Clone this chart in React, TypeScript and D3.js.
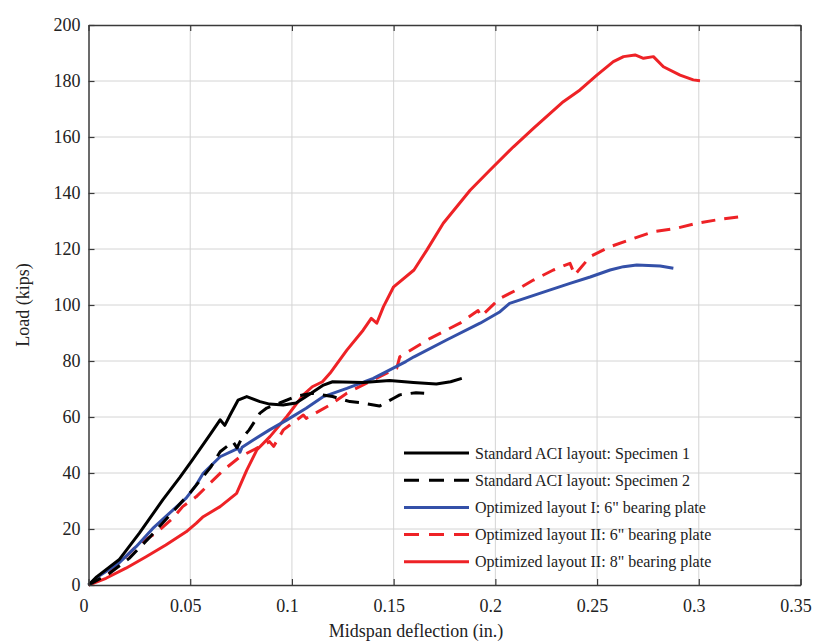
import React, { useEffect, useRef } from 'react'
import * as d3 from 'd3'

// [midspan deflection (in.), load (kips)]
const spec1: [number, number][] = [
  [0, 0], [0.004, 2.9], [0.015, 9], [0.025, 18.5], [0.0365, 30.4], [0.045, 38.5],
  [0.051, 44.6], [0.06, 54], [0.0647, 59], [0.067, 57], [0.0696, 60.7],
  [0.0735, 66], [0.0778, 67.3], [0.0843, 65.5], [0.089, 64.6], [0.0957, 64.3],
  [0.102, 65], [0.107, 67.3], [0.1155, 71.4], [0.12, 72.6], [0.135, 72.3],
  [0.148, 73], [0.1597, 72.3], [0.171, 71.8], [0.178, 72.6], [0.1835, 73.8]
]

const spec2: [number, number][] = [
  [0, 0], [0.005, 2], [0.01, 4], [0.02, 9.5], [0.03, 17], [0.04, 25], [0.05, 33],
  [0.06, 42], [0.0647, 47.6], [0.071, 51.2], [0.073, 49], [0.075, 52], [0.079, 55.4],
  [0.0843, 61.4], [0.0876, 63.2], [0.094, 65], [0.102, 67.4], [0.11, 68.5],
  [0.12, 67.3], [0.1285, 65.5], [0.1335, 65.1], [0.143, 63.9], [0.15, 66.7],
  [0.153, 67.9], [0.161, 68.7], [0.165, 68.5]
]

const opt1Six: [number, number][] = [
  [0, 0], [0.0037, 2.5], [0.015, 7.9], [0.0234, 13.7], [0.0316, 20.2], [0.0397, 25.6],
  [0.048, 31], [0.0529, 35.7], [0.0564, 39.9], [0.0647, 45.8], [0.0735, 48.8],
  [0.0745, 47.4], [0.0755, 49.2], [0.081, 51.8], [0.089, 55.4], [0.0974, 58.9],
  [0.107, 63.1], [0.1155, 67.3], [0.127, 70.2], [0.14, 73.8], [0.156, 79.8],
  [0.16, 81.5], [0.176, 87.5], [0.1925, 93.5], [0.2023, 97.6], [0.207, 100.6],
  [0.217, 103], [0.227, 105.4], [0.2367, 107.7], [0.2466, 110], [0.2564, 112.5],
  [0.263, 113.7], [0.2695, 114.3], [0.281, 113.9], [0.2875, 113.1]
]

const opt2Six: [number, number][] = [
  [0, 0], [0.0086, 3], [0.0184, 10.1], [0.025, 14.9], [0.0332, 18.5], [0.0414, 23.8],
  [0.0463, 28], [0.0529, 31.5], [0.058, 35.1], [0.0663, 41], [0.0745, 45.8],
  [0.089, 51.2], [0.091, 49.5], [0.0958, 55.4], [0.1056, 60.7], [0.107, 59.5],
  [0.1187, 64.3], [0.127, 68.5], [0.138, 72.6], [0.1515, 77.4], [0.153, 81.5],
  [0.168, 88.1], [0.1826, 93.5], [0.1915, 98], [0.193, 96], [0.2023, 102.4],
  [0.2105, 105.4], [0.2187, 108.9], [0.2285, 112.5], [0.2367, 114.9], [0.239, 110.7],
  [0.2466, 117.3], [0.2564, 120.8], [0.268, 123.8], [0.2777, 126.2], [0.289, 127.4],
  [0.299, 129.2], [0.3105, 130.6], [0.3203, 131.5], [0.321, 130.4]
]

const opt2Eight: [number, number][] = [
  [0, 0], [0.0086, 2.4], [0.0184, 6], [0.0283, 10.1], [0.038, 14.3], [0.048, 19],
  [0.0529, 22], [0.0564, 24.4], [0.0647, 28], [0.0728, 32.7], [0.0778, 41],
  [0.0827, 48.2], [0.0892, 53], [0.0974, 60.1], [0.1056, 67.9], [0.11, 70.8],
  [0.115, 72.6], [0.1187, 75.6], [0.127, 83.9], [0.135, 91], [0.139, 95.2],
  [0.1417, 93.5], [0.145, 99.4], [0.15, 106.5], [0.16, 112.5], [0.1663, 119.6],
  [0.1744, 129.2], [0.1876, 141], [0.1974, 148.2], [0.2089, 156.5], [0.2187, 163.1],
  [0.2334, 172.6], [0.2416, 176.8], [0.2499, 182.1], [0.258, 186.9], [0.263, 188.7],
  [0.2687, 189.3], [0.2728, 188.1], [0.2777, 188.7], [0.2826, 185.1], [0.2908, 182.1],
  [0.2973, 180.4], [0.3006, 180.1]
]

const seriesNames = [
  'Standard ACI layout: Specimen 1',
  'Standard ACI layout: Specimen 2',
  'Optimized layout I: 6" bearing plate',
  'Optimized layout II: 6" bearing plate',
  'Optimized layout II: 8" bearing plate'
]
const seriesData = [spec1, spec2, opt1Six, opt2Six, opt2Eight]
const seriesColors = ['#000000', '#000000', '#3450a8', '#ee2226', '#ee2226']
const seriesDashed = [false, true, false, true, false]

const xTicks = [0, 0.05, 0.1, 0.15, 0.2, 0.25, 0.3, 0.35]
const yTicks = [0, 20, 40, 60, 80, 100, 120, 140, 160, 180, 200]

export default function App() {
  const ref = useRef<SVGSVGElement>(null)

  useEffect(() => {
    const width = 813, height = 644
    const left = 88.5, right = 800.5, top = 25, bottom = 585
    const font = '"Liberation Serif", "Times New Roman", serif'

    const svg = d3.select(ref.current)
    svg.selectAll('*').remove()
    svg.attr('width', width).attr('height', height)

    const x = d3.scaleLinear().domain([0, 0.35]).range([left, right])
    const y = d3.scaleLinear().domain([0, 200]).range([bottom, top])

    svg.append('rect').attr('width', width).attr('height', height).attr('fill', '#fff')

    // grid
    const grid = svg.append('g').attr('stroke', '#d4d4d4').attr('stroke-width', 1)
    grid.selectAll('.gx').data(xTicks.slice(1, -1)).enter().append('line')
      .attr('x1', d => x(d)).attr('x2', d => x(d)).attr('y1', top).attr('y2', bottom)
    grid.selectAll('.gy').data(yTicks.slice(1, -1)).enter().append('line')
      .attr('y1', d => y(d)).attr('y2', d => y(d)).attr('x1', left).attr('x2', right)

    // lines
    const line = d3.line<[number, number]>().x(d => x(d[0])).y(d => y(d[1]))
    const order = [4, 3, 2, 1, 0]
    order.forEach(i => {
      svg.append('path')
        .datum(seriesData[i])
        .attr('d', line)
        .attr('fill', 'none')
        .attr('stroke', seriesColors[i])
        .attr('stroke-width', 3)
        .attr('stroke-linejoin', 'round')
        .attr('stroke-dasharray', seriesDashed[i] ? '14,9' : null)
    })

    // axes (box with inward ticks, like matlab)
    const axisColor = '#3a3a3a'
    const bottomAxis = svg.append('g').attr('transform', `translate(0,${bottom})`)
      .call(d3.axisBottom(x).tickValues(xTicks).tickSizeInner(-6).tickSizeOuter(0).tickPadding(14)
        .tickFormat(d => d3.format('~g')(d as number)))
    const leftAxis = svg.append('g').attr('transform', `translate(${left},0)`)
      .call(d3.axisLeft(y).tickValues(yTicks).tickSizeInner(-6).tickSizeOuter(0).tickPadding(8))
    svg.append('g').attr('transform', `translate(0,${top})`)
      .call(d3.axisTop(x).tickValues(xTicks).tickSizeInner(-6).tickSizeOuter(0).tickFormat(() => ''))
    svg.append('g').attr('transform', `translate(${right},0)`)
      .call(d3.axisRight(y).tickValues(yTicks).tickSizeInner(-6).tickSizeOuter(0).tickFormat(() => ''))

    svg.selectAll('.domain').attr('stroke', axisColor).attr('stroke-width', 1.5)
    svg.selectAll('.tick line').attr('stroke', axisColor).attr('stroke-width', 1.2)
    ;[bottomAxis, leftAxis].forEach(a => a.attr('font-family', null).selectAll('text')
      .style('font-family', font).style('font-size', '18px').attr('fill', '#222'))
    bottomAxis.selectAll('text').attr('dx', -5)

    // axis titles
    svg.append('text')
      .attr('x', 416).attr('y', 637)
      .attr('text-anchor', 'middle').style('font-family', font).style('font-size', '18px').attr('fill', '#222')
      .text('Midspan deflection (in.)')
    svg.append('text')
      .attr('transform', `translate(29,${(top + bottom) / 2}) rotate(-90)`)
      .attr('text-anchor', 'middle').style('font-family', font).style('font-size', '18px').attr('fill', '#222')
      .text('Load (kips)')

    // legend
    const legend = svg.append('g').attr('transform', 'translate(404,453)')
    seriesNames.forEach((name, i) => {
      const row = legend.append('g').attr('transform', `translate(0,${i * 27.2})`)
      row.append('line').attr('x1', 0).attr('x2', 65).attr('y1', 0).attr('y2', 0)
        .attr('stroke', seriesColors[i]).attr('stroke-width', 3)
        .attr('stroke-dasharray', seriesDashed[i] ? '15,10' : null)
      row.append('text').attr('x', 71).attr('y', 5.5)
        .style('font-family', font).style('font-size', '16px').attr('fill', '#222')
        .text(name)
    })
  }, [])

  return (
    <svg ref={ref} style={{ position: 'absolute', left: 0, top: 0, display: 'block' }} />
  )
}
